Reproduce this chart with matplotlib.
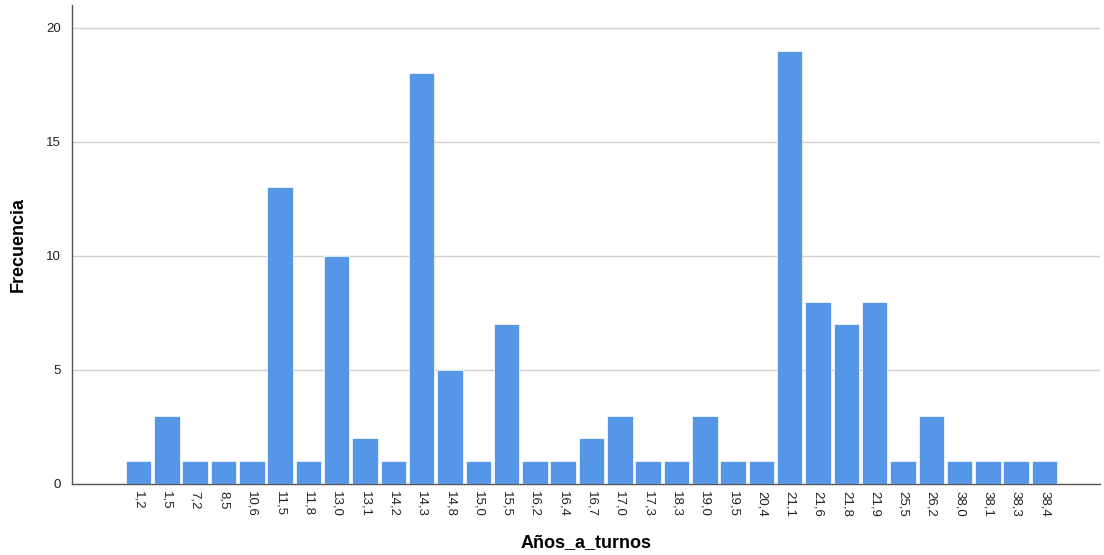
import matplotlib
matplotlib.use("Agg")
import matplotlib.pyplot as plt

plt.rcParams['font.family'] = ['Liberation Sans', 'DejaVu Sans']

categorias = ["1,2", "1,5", "7,2", "8,5", "10,6", "11,5", "11,8", "13,0", "13,1", "14,2",
              "14,3", "14,8", "15,0", "15,5", "16,2", "16,4", "16,7", "17,0", "17,3", "18,3",
              "19,0", "19,5", "20,4", "21,1", "21,6", "21,8", "21,9", "25,5", "26,2", "38,0",
              "38,1", "38,3", "38,4"]
frecuencia = [1, 3, 1, 1, 1, 13, 1, 10, 2, 1,
              18, 5, 1, 7, 1, 1, 2, 3, 1, 1,
              3, 1, 1, 19, 8, 7, 8, 1, 3, 1,
              1, 1, 1]
y_ticks = [0, 5, 10, 15, 20]

fig = plt.figure(figsize=(11.04, 5.55), dpi=100)
# axes from x=72px to x=1100px, y=5px to y=484px
ax = fig.add_axes([72 / 1104, 71 / 555, 1028 / 1104, 479 / 555])

x = range(len(categorias))
ax.bar(x, frecuencia, width=0.9, color="#5596E6", edgecolor="white", linewidth=0.5, zorder=3)

ax.set_xlim(-2.35, 33.96)
ax.set_ylim(0, 21.0)
ax.set_yticks(y_ticks)
ax.set_xticks(list(x))
ax.set_xticklabels(categorias, rotation=270, fontsize=9.5, color="#222222")
ax.tick_params(axis='y', labelsize=9.5, colors="#222222", length=0, pad=8)
ax.tick_params(axis='x', length=0, pad=5)
ax.grid(axis='y', color="#D0D0D0", linewidth=1.0, zorder=0)

for s in ["top", "right"]:
    ax.spines[s].set_visible(False)
ax.spines["left"].set_color("#555555")
ax.spines["bottom"].set_color("#555555")
ax.spines["left"].set_linewidth(1.0)
ax.spines["bottom"].set_linewidth(1.0)

ax.set_ylabel("Frecuencia", fontsize=13, fontweight="bold", labelpad=14)
ax.set_xlabel("Años_a_turnos", fontsize=13, fontweight="bold", labelpad=12)

fig.savefig("out.png", dpi=100)
